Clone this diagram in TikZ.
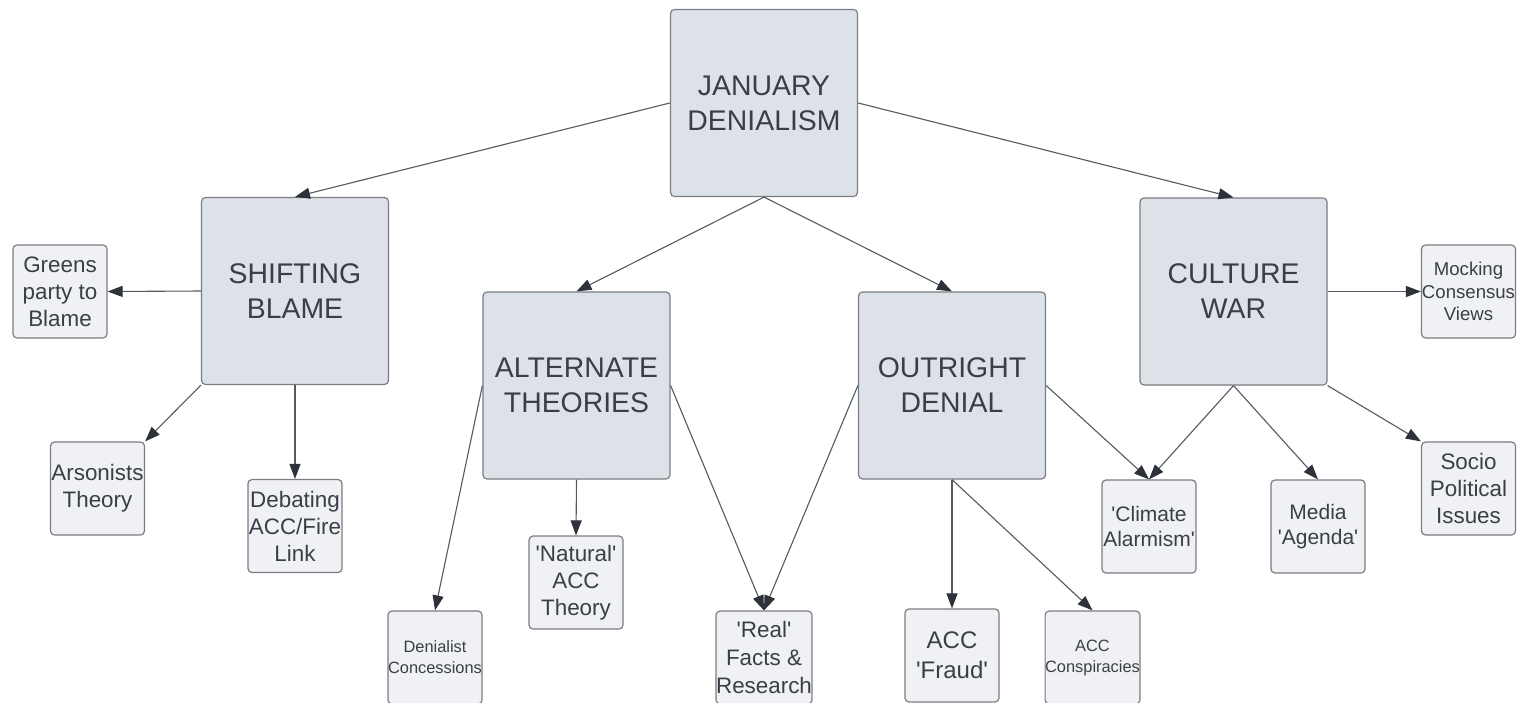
\documentclass[tikz,border=0pt]{standalone}
\usepackage{fontspec}
\setmainfont{Liberation Sans}[Ligatures=TeXOff]
\usetikzlibrary{arrows.meta}
\definecolor{bigfill}{RGB}{221,225,232}
\definecolor{smallfill}{RGB}{240,241,244}
\definecolor{boxline}{RGB}{122,125,131}
\definecolor{txt}{RGB}{58,62,70}
\definecolor{wire}{RGB}{85,89,97}
\definecolor{tip}{RGB}{45,49,57}
\tikzset{
  topic/.style={draw=boxline, fill=bigfill, line width=0.6pt, rounded corners=2pt,
    minimum width=93.5pt, minimum height=93.5pt, inner sep=0pt, align=center,
    text=txt, font=\fontsize{14.2}{17.5}\selectfont},
  leaf/.style={draw=boxline, fill=smallfill, line width=0.6pt, rounded corners=2pt,
    minimum width=47pt, minimum height=46.5pt, inner sep=0pt, align=center,
    text=txt, font=\fontsize{11.2}{13.5}\selectfont},
  link/.style={draw=wire, line width=0.55pt,
    -{Triangle[length=7.5pt,width=5.5pt,color=tip,fill=tip]}},
}
\begin{document}
\begin{tikzpicture}[x=0.5pt,y=-0.5pt]
\useasboundingbox (0,0) rectangle (1529,702);
\fill[white] (0,0) rectangle (1529,702);

% main categories
\node[topic] (jan)  at (764,103)    {JANUARY\\DENIALISM};
\node[topic] (shift) at (295,291)   {SHIFTING\\BLAME};
\node[topic] (alt)  at (576.5,385.5) {ALTERNATE\\THEORIES};
\node[topic] (out)  at (952,385.5)  {OUTRIGHT\\DENIAL};
\node[topic] (cult) at (1233.5,291.5) {CULTURE\\WAR};

% sub-themes
\node[leaf] (greens)  at (60,291.5)   {Greens\\party to\\Blame};
\node[leaf] (arson)   at (97.5,488.5) {Arsonists\\Theory};
\node[leaf] (debate)  at (295,526)    {Debating\\ACC/Fire\\Link};
\node[leaf] (natural) at (576,582.5)  {'Natural'\\ACC\\Theory};
\node[leaf, font=\fontsize{8.2}{10.5}\selectfont] (conc) at (435,657.5) {Denialist\\Concessions};
\node[leaf, font=\fontsize{11.2}{14}\selectfont] (real) at (764,657.5) {'Real'\\Facts \&\\Research};
\node[leaf, font=\fontsize{12}{15}\selectfont] (fraud) at (952,655.5) {ACC\\'Fraud'};
\node[leaf, font=\fontsize{8.2}{10.5}\selectfont] (consp) at (1092.5,657.5) {ACC\\Conspiracies};
\node[leaf, font=\fontsize{10.5}{12.2}\selectfont] (alarm) at (1149,526.5) {'Climate\\Alarmism'};
\node[leaf, font=\fontsize{10.5}{12.2}\selectfont] (media) at (1318,526.5) {Media\\'Agenda'};
\node[leaf, font=\fontsize{9.3}{11.2}\selectfont] (mock) at (1468.5,291.5) {Mocking\\Consensus\\Views};
\node[leaf] (socio) at (1468.5,488.5) {Socio\\Political\\Issues};

% connectors
\draw[link] (jan.west)  -- (shift.north);
\draw[link] (jan.east)  -- (cult.north);
\draw[link] (jan.south) -- (alt.north);
\draw[link] (jan.south) -- (out.north);

\draw[link] (shift.west) -- (greens.east);
\draw[link] (shift.south west) -- (arson.north east);
\draw[link] (shift.south) -- (debate.north);

\draw[link] (alt.west)  -- (conc.north);
\draw[link] (alt.south) -- (natural.north);
\draw[link] (alt.east)  -- (real.north);

\draw[link] (out.west)  -- (real.north);
\draw[link] (out.south) -- (fraud.north);
\draw[link] (out.south) -- (consp.north);
\draw[link] (out.east)  -- (alarm.north);

\draw[link] (cult.south) -- (alarm.north);
\draw[link] (cult.south) -- (media.north);
\draw[link] (cult.south east) -- (socio.north west);
\draw[link] (cult.east) -- (mock.west);
\end{tikzpicture}
\end{document}
